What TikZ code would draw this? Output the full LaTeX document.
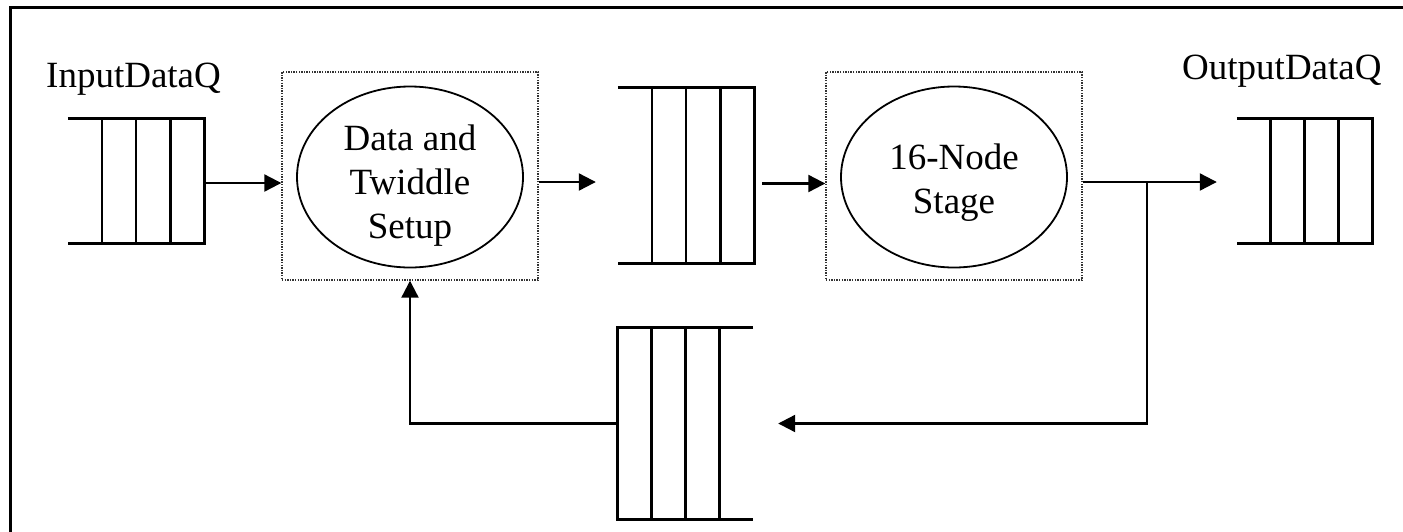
\documentclass[tikz,border=0pt]{standalone}
\usepackage{fontspec}
\setmainfont{Liberation Serif}
\usetikzlibrary{arrows.meta,shapes.geometric,calc}
\tikzset{
  qbox/.style={rectangle,draw=none,inner sep=0pt,minimum width=#1},
  qline/.style={line width=2.8pt,line cap=butt},
  stagebox/.style={rectangle,draw=black!80,line width=1.4pt,dash pattern=on 1.4pt off 1.2pt,inner sep=0pt,minimum width=256pt,minimum height=208pt},
  proc/.style={ellipse,draw,line width=1.8pt,inner sep=0pt,minimum width=226pt,minimum height=181pt},
  txt/.style={inner sep=0pt,align=center,font=\fontsize{37}{44}\selectfont},
  arr/.style={line width=2.2pt,-{Triangle[length=17pt,width=17pt]}},
  frame/.style={line width=3pt}
}
\begin{document}
\begin{tikzpicture}[x=1pt,y=-1pt]
\useasboundingbox (0,0) rectangle (1403,531);
% frame
\draw[frame] (10,535) -- (10,7) -- (1410,7);
% labels
\node[txt,anchor=base west] (lin) at (46,87) {InputDataQ};
\node[txt,anchor=base west] (lout) at (1182,79) {OutputDataQ};
% queues
\node[qbox=136pt,minimum height=124pt] (qin) at (136,181) {};
\node[qbox=136pt,minimum height=175pt] (qmid) at (686,175.5) {};
\node[qbox=135pt,minimum height=124pt] (qout) at (1304.5,181) {};
\node[qbox=135pt,minimum height=191pt] (qfb) at (685.5,423.5) {};
\foreach \q in {qin,qmid,qout}{
  \draw[qline] (\q.north west) -- (\q.north east) -- (\q.south east) -- (\q.south west);
  \foreach \f in {0.25,0.5,0.75}
    \draw[qline] ($(\q.north west)!\f!(\q.north east)$) -- ($(\q.south west)!\f!(\q.south east)$);
}
\draw[qline] (qfb.north east) -- (qfb.north west) -- (qfb.south west) -- (qfb.south east);
\foreach \f in {0.25,0.5,0.75}
  \draw[qline] ($(qfb.north west)!\f!(qfb.north east)$) -- ($(qfb.south west)!\f!(qfb.south east)$);
% stages
\node[stagebox] (box1) at (410,176) {};
\node[stagebox] (box2) at (954,176) {};
\node[proc] (e1) at (410,177) {};
\node[proc] (e2) at (954,177) {};
\node[txt] (t1) at (410,186) {Data and\\Twiddle\\Setup};
\node[txt] (t2) at (954,183) {16-Node\\Stage};
% connectors
\draw[arr] ([yshift=-2pt]qin.east) coordinate (a1) -- (a1 -| box1.west);
\draw[arr,shorten >=22pt] ([yshift=-6pt]box1.east) coordinate (a2) -- (a2 -| qmid.west);
\draw[arr,shorten <=8pt] ([yshift=-8pt]qmid.east) coordinate (a3) -- (a3 -| box2.west);
\draw[arr,shorten >=20pt] ([yshift=-6pt]box2.east) coordinate (a4) -- (a4 -| qout.west);
\coordinate (br) at ($(a4)+(64,0)$);
\draw[arr,shorten >=25pt] (br) |- (qfb.east);
\draw[arr] (qfb.west) -| (box1.south);
\end{tikzpicture}
\end{document}
